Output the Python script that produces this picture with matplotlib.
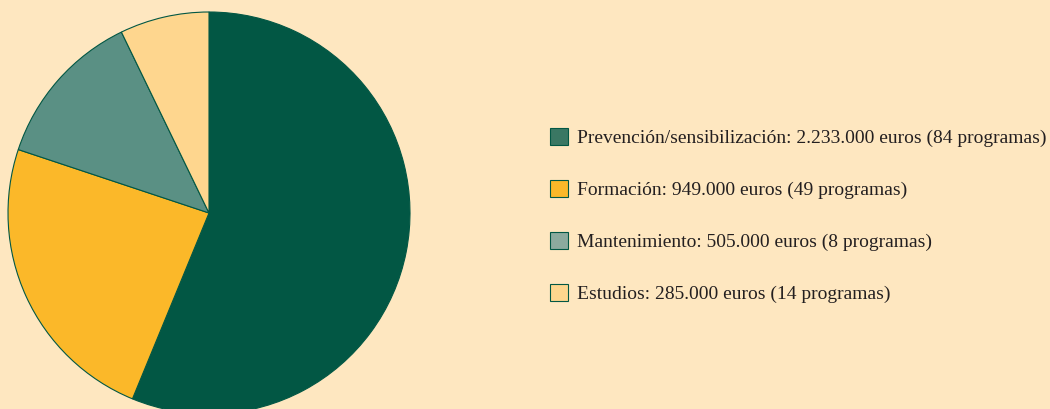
import matplotlib.pyplot as plt
from matplotlib.patches import Patch

categorias = ['Prevención/sensibilización', 'Formación', 'Mantenimiento', 'Estudios']
euros = [2233000, 949000, 505000, 285000]
programas = [84, 49, 8, 14]
etiquetas = ['Prevención/sensibilización: 2.233.000 euros (84 programas)',
             'Formación: 949.000 euros (49 programas)',
             'Mantenimiento: 505.000 euros (8 programas)',
             'Estudios: 285.000 euros (14 programas)']

colores_pie = ['#025744', '#FBB829', '#5A9084', '#FED68E']
colores_leyenda = ['#3A7763', '#FBB829', '#8CAA9E', '#FED68E']
borde = '#025744'
fondo = '#FEE7C0'

plt.rcParams['font.family'] = ['Liberation Serif', 'DejaVu Serif']

fig = plt.figure(figsize=(10.5, 4.09), dpi=100, facecolor=fondo)
ax = fig.add_axes([0, 0, 1, 1])
ax.set_facecolor(fondo)

ax.pie(euros, colors=colores_pie, startangle=90, counterclock=False,
       center=(209, 196), radius=201,
       wedgeprops={'edgecolor': borde, 'linewidth': 0.8})
ax.set_xlim(0, 1050)
ax.set_ylim(0, 409)
ax.set_aspect('equal')
ax.axis('off')

handles = [Patch(facecolor=c, edgecolor=borde, linewidth=0.8) for c in colores_leyenda]
leg = fig.legend(handles, etiquetas, loc='upper left',
                 bbox_to_anchor=(550 / 1050, 1 - 128 / 409),
                 frameon=False, fontsize=14, borderpad=0, borderaxespad=0,
                 handlelength=0.93, handleheight=0.93, handletextpad=0.47,
                 labelspacing=1.7, labelcolor='#231F20')

fig.savefig('out.png', dpi=100, facecolor=fondo)
